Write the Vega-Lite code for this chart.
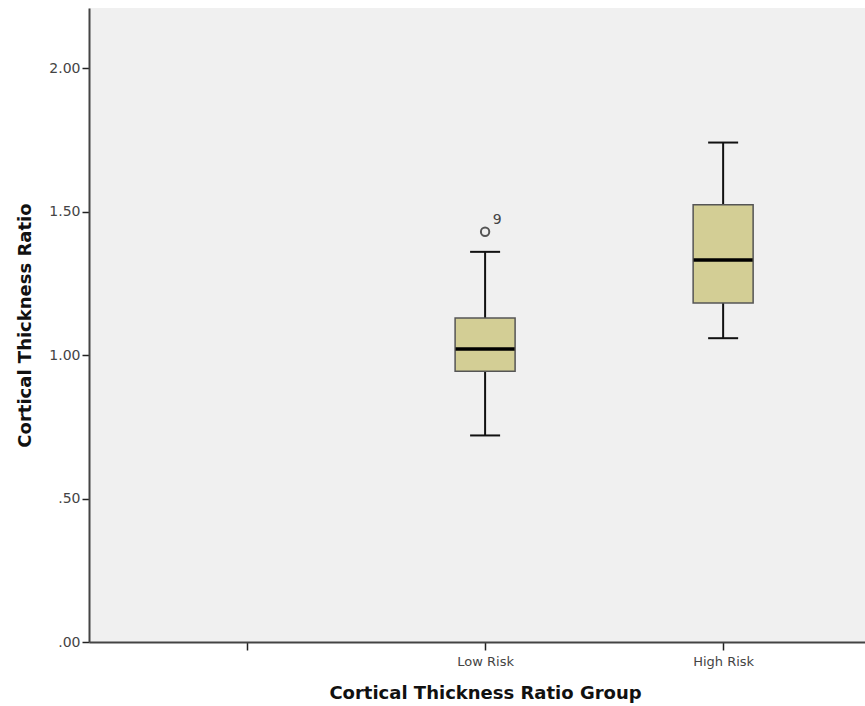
{
  "$schema": "https://vega.github.io/schema/vega-lite/v6.json",
  "autosize": {"type": "none"},
  "padding": {"left": 89, "top": 8, "right": 0, "bottom": 64},
  "width": 776,
  "height": 634,
  "background": "white",
  "config": {
    "view": {"stroke": null, "fill": "#F0F0F0"},
    "font": "DejaVu Sans",
    "axis": {
      "domainColor": "#444444",
      "domainWidth": 2,
      "tickColor": "#222222",
      "tickWidth": 1.5,
      "labelColor": "#444444",
      "labelFont": "DejaVu Sans",
      "titleFont": "DejaVu Sans",
      "titleColor": "#111111",
      "titleFontWeight": "bold",
      "grid": false
    }
  },
  "datasets": {
    "boxes": [
      {"group": "Low Risk", "lower": 0.72, "q1": 0.944, "median": 1.021, "q3": 1.129, "upper": 1.36},
      {"group": "High Risk", "lower": 1.059, "q1": 1.182, "median": 1.332, "q3": 1.524, "upper": 1.741}
    ],
    "outliers": [
      {"group": "Low Risk", "value": 1.43, "label": "9"}
    ]
  },
  "encoding": {
    "x": {
      "field": "group",
      "type": "nominal",
      "sort": null,
      "scale": {"type": "point", "domain": ["", "Low Risk", "High Risk"], "padding": 0.63, "align": 0.527},
      "axis": {
        "title": "Cortical Thickness Ratio Group",
        "labelAngle": 0,
        "labelFontSize": 13,
        "tickSize": 8,
        "labelPadding": 5,
        "titleFontSize": 18,
        "titlePadding": 16,
        "titleX": 396
      }
    }
  },
  "layer": [
    {
      "data": {"name": "boxes"},
      "mark": {"type": "rule", "color": "#111111", "strokeWidth": 2},
      "encoding": {
        "y": {
          "field": "lower",
          "type": "quantitative",
          "scale": {"domain": [0, 2.21], "nice": false, "zero": false},
          "axis": {
            "title": "Cortical Thickness Ratio",
            "values": [0, 0.5, 1, 1.5, 2],
            "labelExpr": "datum.value < 1 ? slice(format(datum.value, '.2f'), 1) : format(datum.value, '.2f')",
            "labelFontSize": 14,
            "tickSize": 7,
            "labelPadding": 2,
            "titleFontSize": 18,
            "titlePadding": 14
          }
        },
        "y2": {"field": "upper"}
      }
    },
    {
      "data": {"name": "boxes"},
      "mark": {"type": "bar", "size": 60, "fill": "#D3CE95", "stroke": "#555555", "strokeWidth": 1.5},
      "encoding": {
        "y": {"field": "q1", "type": "quantitative"},
        "y2": {"field": "q3"}
      }
    },
    {
      "data": {"name": "boxes"},
      "mark": {"type": "tick", "size": 59, "thickness": 3.5, "color": "#000000", "opacity": 1},
      "encoding": {
        "y": {"field": "median", "type": "quantitative"}
      }
    },
    {
      "data": {"name": "boxes"},
      "mark": {"type": "tick", "size": 30, "thickness": 2, "color": "#111111", "opacity": 1},
      "encoding": {
        "y": {"field": "lower", "type": "quantitative"}
      }
    },
    {
      "data": {"name": "boxes"},
      "mark": {"type": "tick", "size": 30, "thickness": 2, "color": "#111111", "opacity": 1},
      "encoding": {
        "y": {"field": "upper", "type": "quantitative"}
      }
    },
    {
      "data": {"name": "outliers"},
      "mark": {"type": "point", "shape": "circle", "size": 70, "filled": false, "stroke": "#555555", "strokeWidth": 2, "opacity": 1},
      "encoding": {
        "y": {"field": "value", "type": "quantitative"}
      }
    },
    {
      "data": {"name": "outliers"},
      "mark": {"type": "text", "dx": 12, "dy": -12, "fontSize": 14, "color": "#444444"},
      "encoding": {
        "y": {"field": "value", "type": "quantitative"},
        "text": {"field": "label"}
      }
    }
  ]
}
